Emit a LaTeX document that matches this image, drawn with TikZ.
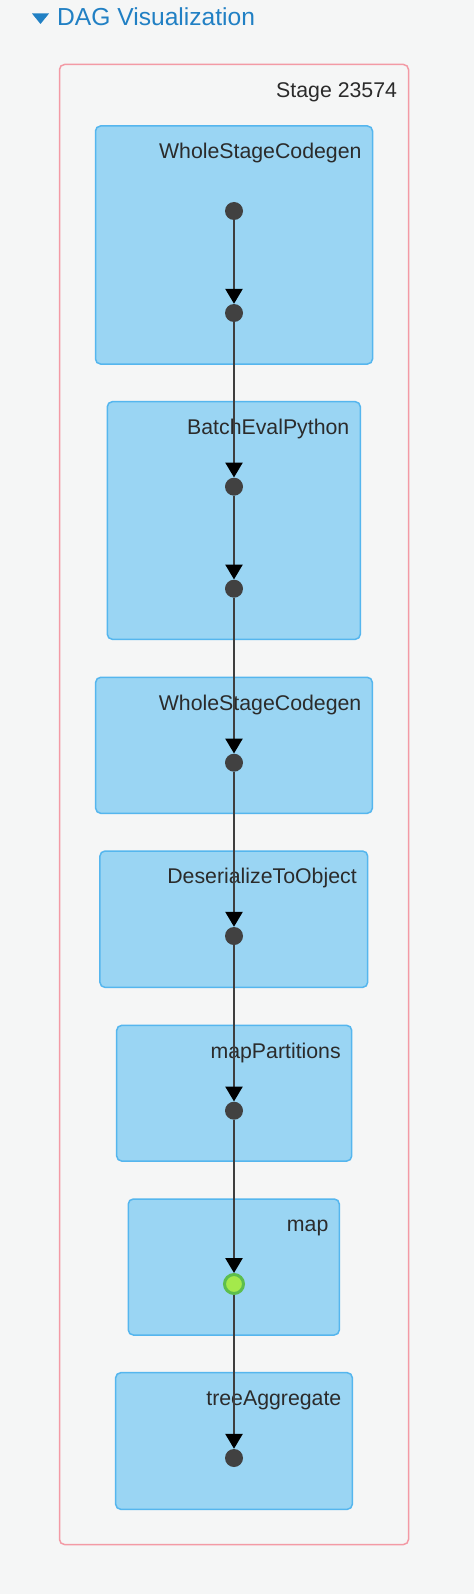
\documentclass[tikz,border=0pt]{standalone}
\usepackage{fontspec}
\setmainfont{Liberation Sans}
\usetikzlibrary{arrows.meta,positioning}
\definecolor{pagebg}{HTML}{F5F6F6}
\definecolor{titleblue}{HTML}{2180C4}
\definecolor{stageline}{HTML}{F39AA5}
\definecolor{opfill}{HTML}{9AD5F3}
\definecolor{opline}{HTML}{55B6EE}
\definecolor{dotgray}{HTML}{414141}
\definecolor{edgegray}{HTML}{3E3E3E}
\definecolor{labelgray}{HTML}{2B2B2B}
\definecolor{cachedfill}{HTML}{A4E94B}
\definecolor{cachedline}{HTML}{5DBE4D}
\tikzset{
	opbox/.style={draw=opline,fill=opfill,line width=1.5pt,rounded corners=5pt,inner sep=0pt},
	oplabel/.style={anchor=base east,text=labelgray,font=\fontsize{21.3}{25}\selectfont,inner sep=0pt},
	rdd/.style={circle,fill=dotgray,minimum size=18pt,inner sep=0pt},
	cachedrdd/.style={circle,fill=cachedfill,draw=cachedline,line width=3pt,minimum size=19pt,inner sep=0pt},
	flow/.style={edgegray,line width=2.6pt,-{Triangle[width=17pt,length=15pt,color=black]}},
}
\begin{document}
\begin{tikzpicture}[x=1pt,y=-1pt]
	\fill[pagebg](0,0)rectangle(474,1594);
	\useasboundingbox(0,0)rectangle(474,1594);
	% title
	\fill[titleblue](32,13.5)--(49,13.5)--(40.5,24)--cycle;
	\node[anchor=base west,inner sep=0pt,text=titleblue,font=\fontsize{24.6}{28}\selectfont](title)at(57,26){DAG Visualization};
	% stage
	\node[draw=stageline,fill=pagebg,line width=1.5pt,rounded corners=5pt,minimum width=349pt,minimum height=1480pt,inner sep=0pt](stage)at(234,804.5){};
	\node[oplabel]at([xshift=-12pt,yshift=-33.5pt]stage.north east){Stage 23574};
	% operator boxes
	\node[opbox,minimum width=277pt,minimum height=238pt](wsc1)at(234,245){};
	\node[opbox,minimum width=253pt,minimum height=237.6pt](bep)at(233.8,520.5){};
	\node[opbox,minimum width=276.6pt,minimum height=136pt](wsc2)at(234,745.3){};
	\node[opbox,minimum width=267.7pt,minimum height=136.3pt](deser)at(233.8,919.2){};
	\node[opbox,minimum width=235pt,minimum height=135.7pt](mapp)at(234.2,1093.2){};
	\node[opbox,minimum width=211pt,minimum height=136pt](map)at(233.8,1267){};
	\node[opbox,minimum width=236.6pt,minimum height=136.6pt](tagg)at(234,1441){};
	\foreach \b/\t in {wsc1/WholeStageCodegen,bep/BatchEvalPython,wsc2/WholeStageCodegen,deser/DeserializeToObject,mapp/mapPartitions,map/map,tagg/treeAggregate}
		\node[oplabel]at([xshift=-11.5pt,yshift=-33.5pt]\b.north east){\t};
	% rdds
	\node[rdd](r1)at(234,211){};
	\node[rdd](r2)at(234,313){};
	\node[rdd](r3)at(234,486.7){};
	\node[rdd](r4)at(234,588.7){};
	\node[rdd](r5)at(234,762.7){};
	\node[rdd](r6)at(234,936){};
	\node[rdd](r7)at(234,1110.7){};
	\node[cachedrdd](r8)at(234,1284){};
	\node[rdd](r9)at(234,1458){};
	\foreach \a/\b in {r1/r2,r2/r3,r3/r4,r4/r5,r5/r6,r6/r7,r7/r8,r8/r9}
		\draw[flow](\a)--(\b);
\end{tikzpicture}
\end{document}
